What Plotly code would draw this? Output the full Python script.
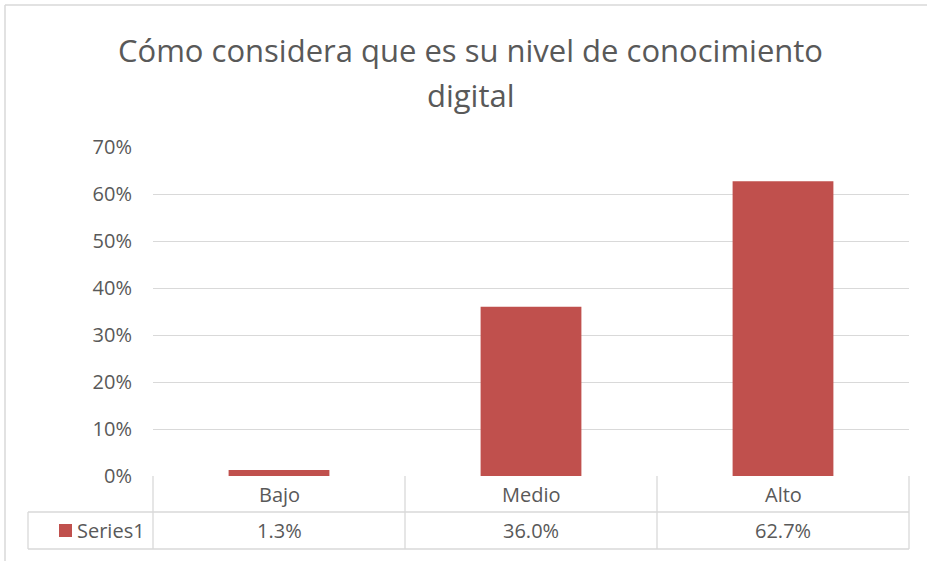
import plotly.graph_objects as go

# Survey results: self-assessed digital knowledge level
categories = ["Bajo", "Medio", "Alto"]
values = [0.013, 0.360, 0.627]
series_name = "Series1"
title_lines = ["Cómo considera que es su nivel de conocimiento", "digital"]

W, H = 927, 561
BAR_COLOR = "#c0504d"
GRID = "#d9d9d9"
TEXT = "#595959"
FONT = "Open Sans"
FS = 20

# plot area in pixels (left, top, right, bottom)
PL, PT, PR, PB = 153, 147, 909, 476
ROW1_B, ROW2_B = 512, 549
LEGEND_L = 28


def px(x):
    return x / W


def py(y):
    return 1 - y / H


def hline(y, x0, x1, color=GRID, width=1.3):
    return dict(type="line", xref="paper", yref="paper",
                x0=px(x0), x1=px(x1), y0=py(y), y1=py(y),
                line=dict(color=color, width=width))


def vline(x, y0, y1, color=GRID, width=1.3):
    return dict(type="line", xref="paper", yref="paper",
                x0=px(x), x1=px(x), y0=py(y0), y1=py(y1),
                line=dict(color=color, width=width))


fig = go.Figure(
    go.Bar(
        x=categories,
        y=values,
        marker=dict(color=BAR_COLOR, line=dict(width=0)),
        width=0.4,
        name=series_name,
        hoverinfo="skip",
    )
)

shapes = []
annotations = []

# chart area border (top and left edges)
shapes.append(hline(5, 5, W, color="#d9d9d9", width=1.5))
shapes.append(vline(5, 5, H, color="#d9d9d9", width=1.5))

# data table grid
col_w = (PR - PL) / len(categories)
for i in range(len(categories) + 1):
    shapes.append(vline(PL + i * col_w, PB, ROW2_B))
for yy in (ROW1_B, ROW2_B):
    shapes.append(hline(yy, LEGEND_L, PR))
shapes.append(vline(LEGEND_L, ROW1_B, ROW2_B))

# legend key in the table
shapes.append(dict(type="rect", xref="paper", yref="paper",
                   x0=px(59), x1=px(72), y0=py(537), y1=py(524),
                   fillcolor=BAR_COLOR, line=dict(width=0)))
annotations.append(dict(xref="paper", yref="paper", x=px(75), y=py(530.5),
                        text=series_name, showarrow=False, xanchor="left",
                        yanchor="middle", font=dict(family=FONT, size=FS, color=TEXT)))

# table cells: category names and values
for i, (cat, val) in enumerate(zip(categories, values)):
    cx = PL + (i + 0.5) * col_w
    annotations.append(dict(xref="paper", yref="paper", x=px(cx), y=py(494),
                            text=cat, showarrow=False, xanchor="center", yanchor="middle",
                            font=dict(family=FONT, size=FS, color=TEXT)))
    annotations.append(dict(xref="paper", yref="paper", x=px(cx), y=py(530.5),
                            text=f"{val * 100:.1f}%", showarrow=False, xanchor="center",
                            yanchor="middle", font=dict(family=FONT, size=FS, color=TEXT)))

# two-line title
for line, yc in zip(title_lines, (50, 95)):
    annotations.append(dict(xref="paper", yref="paper", x=px(471), y=py(yc),
                            text=line, showarrow=False, xanchor="center", yanchor="middle",
                            font=dict(family=FONT, size=31, color=TEXT)))

fig.update_layout(
    template="none",
    width=W, height=H, autosize=False,
    margin=dict(l=0, r=0, t=0, b=0, pad=0),
    paper_bgcolor="white", plot_bgcolor="white",
    showlegend=False,
    bargap=0.6,
    shapes=shapes,
    annotations=annotations,
    xaxis=dict(domain=[px(PL), px(PR)], showticklabels=False, showgrid=False,
               zeroline=False, showline=False, ticks="", automargin=False),
    yaxis=dict(domain=[py(PB), py(PT)], range=[0, 0.7], dtick=0.1,
               tickformat=".0%", showgrid=True, gridcolor=GRID, gridwidth=1.3,
               zeroline=False, showline=False, ticks="", ticklen=0,
               ticklabelstandoff=20, automargin=False,
               tickfont=dict(family=FONT, size=FS, color=TEXT)),
)

fig.write_html("out.html", default_width=f"{W}px", default_height=f"{H}px",
               config={"responsive": False})
